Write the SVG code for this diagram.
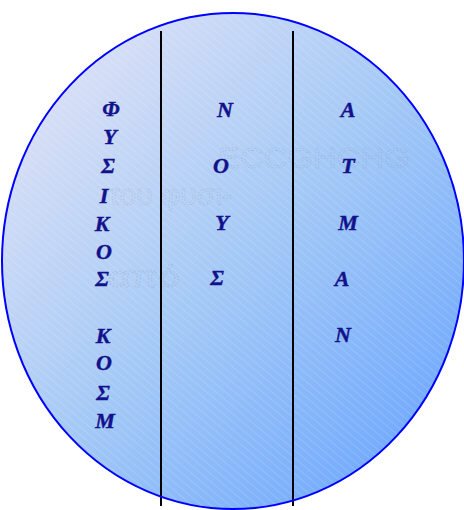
<svg xmlns="http://www.w3.org/2000/svg" width="464" height="510" viewBox="0 0 464 510">
<defs>
<linearGradient id="bg" x1="0" y1="0" x2="1" y2="1">
<stop offset="0" stop-color="#ebe7f6"/>
<stop offset="0.5" stop-color="#a4c9f6"/>
<stop offset="1" stop-color="#62a0ff"/>
</linearGradient>
<pattern id="stripes" width="6" height="6" patternUnits="userSpaceOnUse" patternTransform="rotate(-50)">
<line x1="0" y1="0" x2="0" y2="6" stroke="#ffffff" stroke-width="0.8" stroke-opacity="0.35"/>
</pattern>
</defs>
<style>
.g{font-family:"Liberation Serif","Times New Roman",serif;font-weight:bold;font-style:italic;font-size:22px;fill:#12128c;stroke:#12128c;stroke-width:0.4;text-anchor:middle}
.ghost{font-family:"Liberation Sans",Arial,sans-serif;font-size:30px;fill:none;stroke:#8a97a8;stroke-width:0.8;stroke-dasharray:1.5 1.5;stroke-opacity:0.38}
.div{stroke:#000;stroke-width:2}
</style>
<g id="background">
<ellipse cx="233" cy="261" rx="231" ry="248" fill="url(#bg)"/>
<ellipse cx="233" cy="261" rx="231" ry="248" fill="url(#stripes)"/>
</g>
<g id="ghost-text">
<text class="ghost" x="108" y="205" textLength="124" lengthAdjust="spacingAndGlyphs">του φυσι-</text>
<text class="ghost" x="108" y="287" textLength="72" lengthAdjust="spacingAndGlyphs">από</text>
<text class="ghost" x="218" y="168" textLength="192" lengthAdjust="spacingAndGlyphs">ECCGHCHG</text>
</g>
<g id="dividers">
<line class="div" x1="161" y1="31" x2="161" y2="506"/>
<line class="div" x1="293" y1="31" x2="293" y2="506"/>
</g>
<ellipse cx="233" cy="261" rx="231" ry="248" fill="none" stroke="#0000ff" stroke-width="2"/>
<g id="col1">
<text class="g" x="111" y="116">Φ</text>
<text class="g" x="110" y="144">Υ</text>
<text class="g" x="108" y="173">Σ</text>
<text class="g" x="104" y="203">Ι</text>
<text class="g" x="102" y="231">Κ</text>
<text class="g" x="104" y="259">Ο</text>
<text class="g" x="102" y="286">Σ</text>
<text class="g" x="103" y="343">Κ</text>
<text class="g" x="104" y="370">Ο</text>
<text class="g" x="103" y="400">Σ</text>
<text class="g" x="105" y="428">Μ</text>
</g>
<g id="col2">
<text class="g" x="225" y="117">Ν</text>
<text class="g" x="221" y="173">Ο</text>
<text class="g" x="222" y="230">Υ</text>
<text class="g" x="217" y="285">Σ</text>
</g>
<g id="col3">
<text class="g" x="348" y="117">Α</text>
<text class="g" x="348" y="173">Τ</text>
<text class="g" x="348" y="230">Μ</text>
<text class="g" x="342" y="286">Α</text>
<text class="g" x="343" y="342">Ν</text>
</g>
</svg>
